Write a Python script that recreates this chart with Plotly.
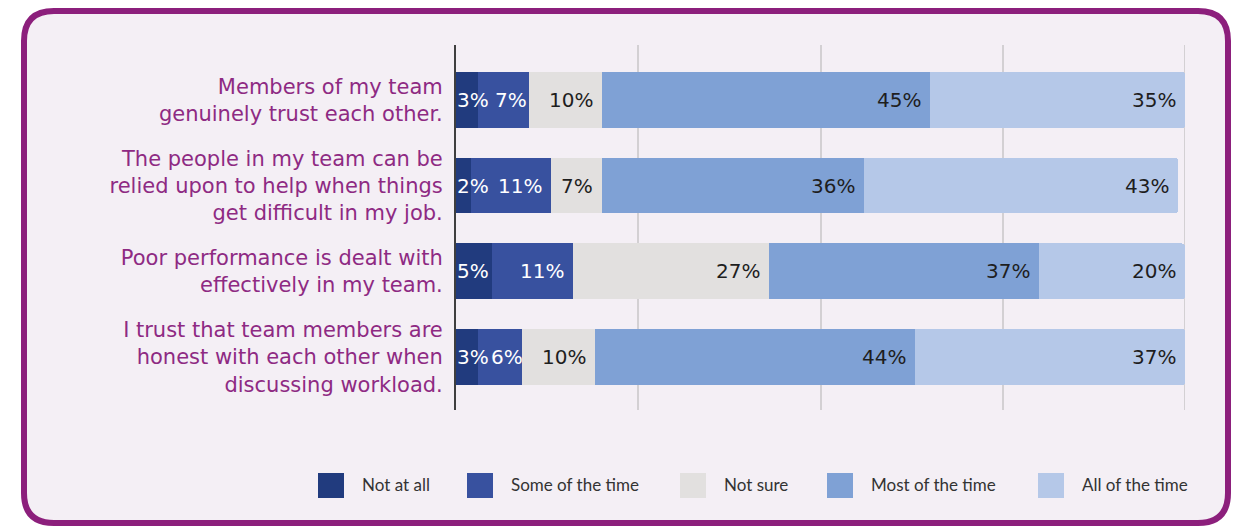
import plotly.graph_objects as go

# Survey statements (top to bottom) and response shares in percent
statements = [
    "Members of my team<br>genuinely trust each other.",
    "The people in my team can be<br>relied upon to help when things<br>get difficult in my job.",
    "Poor performance is dealt with<br>effectively in my team.",
    "I trust that team members are<br>honest with each other when<br>discussing workload.",
]
responses = ["Not at all", "Some of the time", "Not sure", "Most of the time", "All of the time"]
not_at_all = [3, 2, 5, 3]
some_of_the_time = [7, 11, 11, 6]
not_sure = [10, 7, 27, 10]
most_of_the_time = [45, 36, 37, 44]
all_of_the_time = [35, 43, 20, 37]
x_ticks = [0, 25, 50, 75, 100]

series = [not_at_all, some_of_the_time, not_sure, most_of_the_time, all_of_the_time]
colors = ["#213B7E", "#38519F", "#E2E0DF", "#7FA1D5", "#B5C8E8"]
label_colors = ["white", "white", "#1E1E1E", "#1E1E1E", "#1E1E1E"]

W, H = 1239, 526
L, R, T, B = 456, 54, 45, 116
PW, PH = W - L - R, H - T - B


def px(x):
    return (x - L) / PW


def py(y):
    return (H - B - y) / PH


rows = list(range(len(statements)))
fig = go.Figure()
for name, vals, col in zip(responses, series, colors):
    fig.add_trace(go.Bar(
        y=rows, x=vals, name=name, orientation="h",
        marker=dict(color=col, line=dict(width=0)),
        width=0.65, showlegend=False, hoverinfo="x+name",
    ))

# value labels on the segments
annotations = []
for i in rows:
    cum = 0
    for k, vals in enumerate(series):
        v = vals[i]
        start = cum
        cum += v
        if k == 0:
            ax, anchor, shift = start, "left", -1
        else:
            ax, anchor = cum, "right"
            if k == 1 and v < 7:
                shift = 3
            elif k == 1 and v < 10:
                shift = 0
            else:
                shift = -7
        annotations.append(dict(
            x=ax, y=i, xref="x", yref="y", text=f"{v}%", showarrow=False,
            xanchor=anchor, yanchor="middle", xshift=shift,
            font=dict(family="DejaVu Sans", size=20, color=label_colors[k]),
        ))

shapes = []
# rounded panel behind the chart
x0, x1, y0, y1, r = 24, 1228, 11, 523, 30
path = (
    f"M {px(x0 + r)},{py(y0)} L {px(x1 - r)},{py(y0)} "
    f"Q {px(x1)},{py(y0)} {px(x1)},{py(y0 + r)} "
    f"L {px(x1)},{py(y1 - r)} Q {px(x1)},{py(y1)} {px(x1 - r)},{py(y1)} "
    f"L {px(x0 + r)},{py(y1)} Q {px(x0)},{py(y1)} {px(x0)},{py(y1 - r)} "
    f"L {px(x0)},{py(y0 + r)} Q {px(x0)},{py(y0)} {px(x0 + r)},{py(y0)} Z"
)
shapes.append(dict(type="path", path=path, xref="paper", yref="paper",
                   fillcolor="#F4EFF5", line=dict(color="#8C1F7C", width=6),
                   layer="below"))

# gridline at the 100% edge of the plot
shapes.append(dict(type="line", xref="x", yref="paper", x0=100, x1=100, y0=0, y1=1,
                   line=dict(color="#D3D0D3", width=2), layer="below"))

# legend drawn as swatches with captions
swatch_x = [318, 467, 680, 827, 1038]
for name, col, sx in zip(responses, colors, swatch_x):
    shapes.append(dict(type="rect", xref="paper", yref="paper",
                       x0=px(sx), x1=px(sx + 26), y0=py(498), y1=py(473),
                       fillcolor=col, line=dict(width=0), layer="above"))
    annotations.append(dict(
        x=px(sx + 42), y=py(484), xref="paper", yref="paper", text=name,
        showarrow=False, xanchor="left", yanchor="middle",
        font=dict(family="Lato", size=17, color="#333333"),
    ))

fig.update_layout(
    width=W, height=H,
    margin=dict(l=L, r=R, t=T, b=B, pad=0),
    barmode="stack",
    bargap=0.35,
    barcornerradius=3,
    paper_bgcolor="white",
    plot_bgcolor="rgba(0,0,0,0)",
    showlegend=False,
    annotations=annotations,
    shapes=shapes,
    xaxis=dict(range=[0, 100], tickvals=x_ticks, showticklabels=False,
               showgrid=True, gridcolor="#D3D0D3", gridwidth=2,
               zeroline=False, showline=False, fixedrange=True),
    yaxis=dict(range=[3.619, -0.642], tickvals=rows, ticktext=statements,
               showgrid=False, zeroline=False, showline=True,
               linecolor="#3F3F3F", linewidth=2, ticks="",
               ticklabelstandoff=7,
               tickfont=dict(family="DejaVu Sans", size=21, color="#8E2A83"),
               fixedrange=True),
)

fig.write_html("out.html")
